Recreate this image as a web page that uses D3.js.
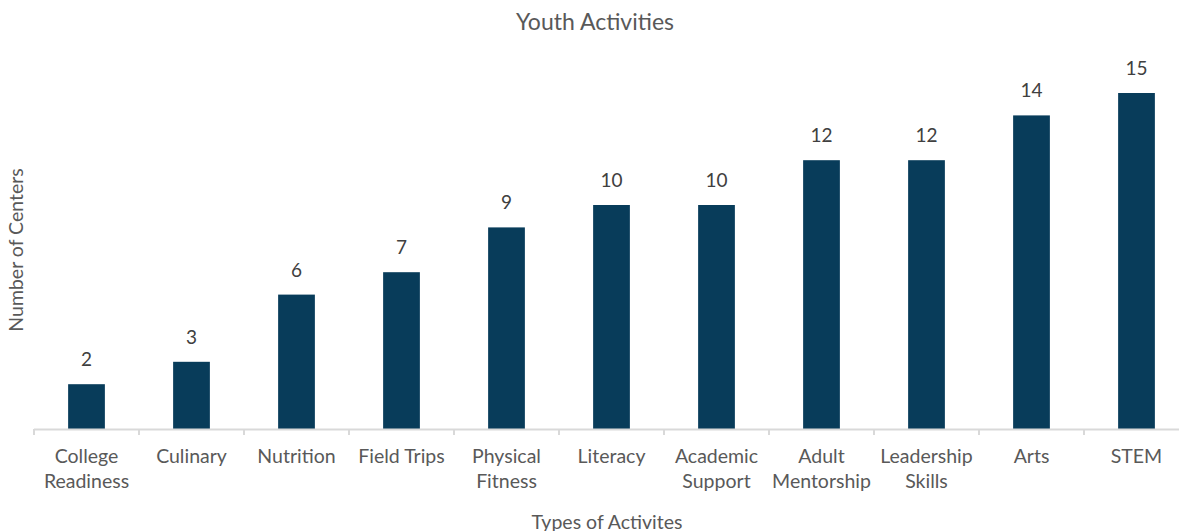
<!DOCTYPE html>
<html>
<head>
<meta charset="utf-8">
<script src="https://cdn.jsdelivr.net/npm/d3@7"></script>
<style>
  html, body { margin: 0; padding: 0; background: #fff; }
  svg { display: block; font-family: Lato, "Open Sans", sans-serif; }
</style>
</head>
<body>
<svg id="chart" width="1179" height="531"></svg>
<script>
const categories = [
  "College Readiness", "Culinary", "Nutrition", "Field Trips", "Physical Fitness",
  "Literacy", "Academic Support", "Adult Mentorship", "Leadership Skills", "Arts", "STEM"
];
const categoryLines = [
  ["College", "Readiness"], ["Culinary"], ["Nutrition"], ["Field Trips"], ["Physical", "Fitness"],
  ["Literacy"], ["Academic", "Support"], ["Adult", "Mentorship"], ["Leadership", "Skills"], ["Arts"], ["STEM"]
];
const centers = [2, 3, 6, 7, 9, 10, 10, 12, 12, 14, 15];

const title = "Youth Activities";
const xTitle = "Types of Activites";
const yTitle = "Number of Centers";

const svg = d3.select("#chart");
const textColor = "#595959";
const barColor = "#083c5a";

const left = 34, bandW = 105;
const baseY = 429;

const x = d3.scaleBand()
  .domain(categories)
  .range([left, left + bandW * categories.length])
  .paddingInner(0.65)
  .paddingOuter(0.325);

const y = d3.scaleLinear().domain([0, 16]).range([baseY, baseY - 16 * 22.4]);

// bars
svg.append("g").selectAll("rect")
  .data(categories)
  .join("rect")
  .attr("x", d => x(d))
  .attr("width", x.bandwidth())
  .attr("y", (d, i) => y(centers[i]))
  .attr("height", (d, i) => y(0) - y(centers[i]))
  .attr("fill", barColor);

// value labels
svg.append("g").selectAll("text")
  .data(categories)
  .join("text")
  .attr("x", d => x(d) + x.bandwidth() / 2)
  .attr("y", (d, i) => y(centers[i]) - 18)
  .attr("text-anchor", "middle")
  .attr("font-size", 19)
  .attr("fill", "#404040")
  .text((d, i) => centers[i]);

// category axis: line with ticks between bands
const axisG = svg.append("g");
axisG.append("line")
  .attr("x1", left).attr("x2", left + bandW * categories.length)
  .attr("y1", baseY + 0.5).attr("y2", baseY + 0.5)
  .attr("stroke", "#d9d9d9").attr("stroke-width", 2);
const boundaries = d3.range(categories.length + 1).map(i => left + i * bandW);
axisG.selectAll("line.tick")
  .data(boundaries)
  .join("line")
  .attr("class", "tick")
  .attr("x1", d => d).attr("x2", d => d)
  .attr("y1", baseY).attr("y2", baseY + 6)
  .attr("stroke", "#d9d9d9").attr("stroke-width", 2);

// category labels
const labG = svg.append("g");
categories.forEach((c, i) => {
  const t = labG.append("text")
    .attr("x", x(c) + x.bandwidth() / 2)
    .attr("y", 463)
    .attr("text-anchor", "middle")
    .attr("font-size", 19.5)
    .attr("fill", textColor);
  categoryLines[i].forEach((line, j) => {
    t.append("tspan")
      .attr("x", x(c) + x.bandwidth() / 2)
      .attr("y", 463 + j * 25)
      .text(line);
  });
});

// titles
svg.append("text")
  .attr("x", 595).attr("y", 30)
  .attr("text-anchor", "middle")
  .attr("font-size", 23)
  .attr("fill", textColor)
  .text(title);

svg.append("text")
  .attr("x", 607).attr("y", 529)
  .attr("text-anchor", "middle")
  .attr("font-size", 19.5)
  .attr("fill", textColor)
  .text(xTitle);

svg.append("text")
  .attr("transform", "translate(23,250) rotate(-90)")
  .attr("text-anchor", "middle")
  .attr("font-size", 19.5)
  .attr("fill", textColor)
  .text(yTitle);
</script>
</body>
</html>
